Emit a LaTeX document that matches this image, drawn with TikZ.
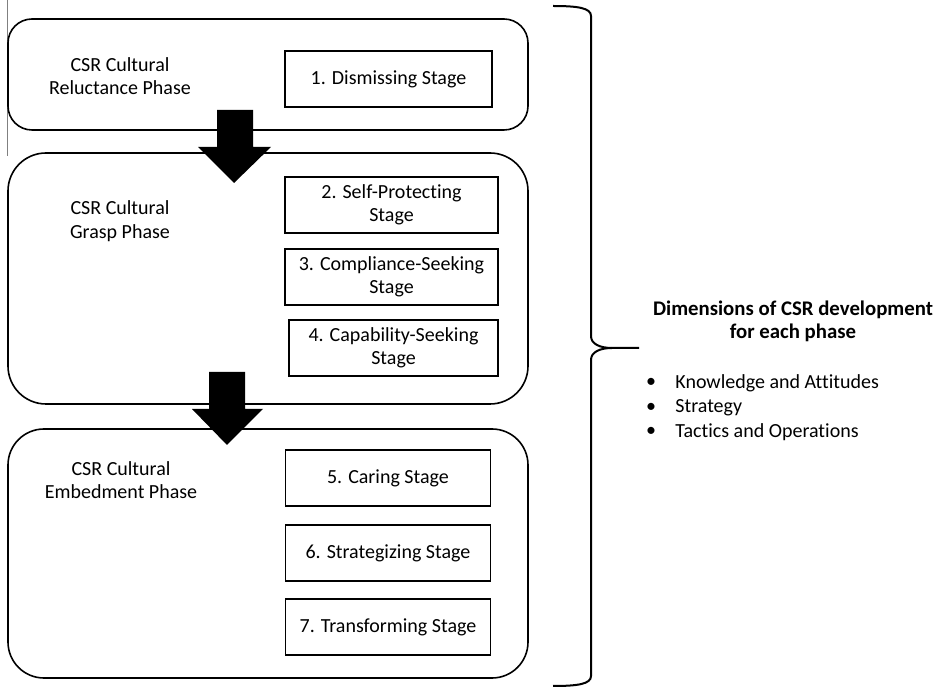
\documentclass[tikz,border=0pt]{standalone}
\usepackage{fontspec}
\setmainfont{Carlito}[Ligatures={NoCommon}]
\usepackage{tikz}
\usetikzlibrary{calc,positioning}

\begin{document}
\begin{tikzpicture}[x=0.5pt,y=-0.5pt,font=\fontsize{10}{11.7}\selectfont,
    phase/.style={draw,line width=0.8pt,minimum width=260pt,inner sep=0pt},
    stage/.style={draw,line width=0.7pt,minimum height=28pt,inner sep=0pt,align=center},
    lbl/.style={align=center,inner sep=0pt},
    blockarrow/.style={fill=black}]
            \useasboundingbox (0,0) rectangle (938,689);
            \draw[gray,line width=0.4pt] (7,0) -- (7,156);

            \node[phase,minimum height=55.5pt,rounded corners=12pt] (ph1) at (268,74.5) {};
            \node[phase,minimum height=125.5pt,rounded corners=19pt] (ph2) at (268,278.5) {};
            \node[phase,minimum height=124.5pt,rounded corners=18pt] (ph3) at (268,553.5) {};

            \node[lbl] (l1) at (120,76) {CSR Cultural\\Reluctance Phase};
            \node[lbl] (l2) at (120,221) {CSR Cultural\\Grasp Phase};
            \node[lbl] (l3) at (121,480) {CSR Cultural\\Embedment Phase};

            \node[stage,minimum width=103.5pt] (s1) at (388.5,79) {1. Dismissing Stage};
            \node[stage,minimum width=106.5pt] (s2) at (391.5,205) {2. Self-Protecting\\Stage};
            \node[stage,minimum width=106.5pt] (s3) at (391.5,277) {3. Compliance-Seeking\\Stage};
            \node[stage,minimum width=104.5pt] (s4) at (393.5,348) {4. Capability-Seeking\\Stage};
            \node[stage,minimum width=102.5pt] (s5) at (388,478) {5. Caring Stage};
            \node[stage,minimum width=102.5pt] (s6) at (388,553) {6. Strategizing Stage};
            \node[stage,minimum width=102.5pt] (s7) at (388,627) {7. Transforming Stage};

            % block arrows between the phases
            \fill[blockarrow] (217,110) -- (253,110) -- (253,147) -- (271,147) -- (234,183) -- (198,147) -- (217,147) -- cycle;
            \fill[blockarrow] (209,372) -- (245,372) -- (245,409) -- (263,409) -- (227,445) -- (192,409) -- (209,409) -- cycle;

            % brace
            \coordinate (tip) at (639,348);
            \draw[line width=1pt] (553,6) .. controls (578,6) and (591,8) .. (591,16) -- (591,336)
                .. controls (591,344) and (600,348) .. (612,348) -- (tip);
            \draw[line width=1pt] (612,348) .. controls (600,348) and (591,352) .. (591,360) -- (591,676)
                .. controls (591,684) and (578,686) .. (553,686);

            \node[lbl,font=\fontsize{10.4}{11.7}\selectfont\bfseries] (dim) at (793,321.5) {Dimensions of CSR development\\for each phase};
            \node[anchor=west,inner sep=0pt] (d1) at (675,383) {Knowledge and Attitudes};
            \node[anchor=west,inner sep=0pt] (d2) at (675,408) {Strategy};
            \node[anchor=west,inner sep=0pt] (d3) at (675,432) {Tactics and Operations};
            \node[inner sep=0pt] (b1) at (651,383) {\textbullet};
            \node[inner sep=0pt] (b2) at (651,408) {\textbullet};
            \node[inner sep=0pt] (b3) at (651,432) {\textbullet};
          \end{tikzpicture}
\end{document}
